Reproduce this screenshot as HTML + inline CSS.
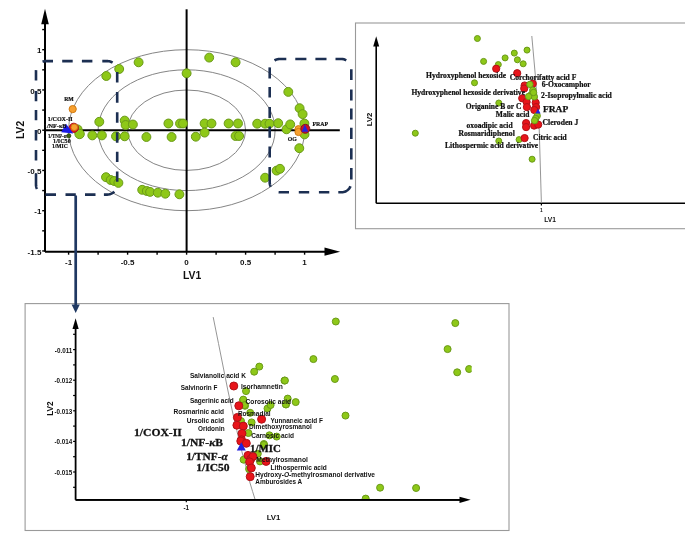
<!DOCTYPE html><html><head><meta charset="utf-8"><style>html,body{margin:0;padding:0;background:#fff;}svg{display:block;filter:blur(0.35px)}</style></head><body>
<svg width="685" height="547" viewBox="0 0 685 547">
<rect width="685" height="547" fill="#fff"/>
<ellipse cx="186.6" cy="130.2" rx="118.0" ry="80.5" fill="none" stroke="#858585" stroke-width="1"/>
<ellipse cx="186.6" cy="130.2" rx="88.5" ry="60.4" fill="none" stroke="#858585" stroke-width="1"/>
<ellipse cx="186.6" cy="130.2" rx="59.0" ry="40.2" fill="none" stroke="#858585" stroke-width="1"/>
<line x1="45.0" y1="251.7" x2="45.0" y2="22" stroke="#000" stroke-width="2"/>
<polygon points="45.0,8.8 41.2,24.3 48.8,24.3" fill="#000"/>
<line x1="45.0" y1="251.7" x2="326" y2="251.7" stroke="#000" stroke-width="2"/>
<polygon points="340.2,251.7 324.5,247.6 324.5,255.8" fill="#000"/>
<line x1="45.0" y1="130.2" x2="339.8" y2="130.2" stroke="#000" stroke-width="2"/>
<line x1="186.6" y1="9.3" x2="186.6" y2="251.7" stroke="#000" stroke-width="2"/>
<line x1="42.2" y1="250.95" x2="45.0" y2="250.95" stroke="#000" stroke-width="1.4"/>
<line x1="42.2" y1="230.825" x2="45.0" y2="230.825" stroke="#000" stroke-width="1.4"/>
<line x1="42.2" y1="210.7" x2="45.0" y2="210.7" stroke="#000" stroke-width="1.4"/>
<line x1="42.2" y1="190.575" x2="45.0" y2="190.575" stroke="#000" stroke-width="1.4"/>
<line x1="42.2" y1="170.45" x2="45.0" y2="170.45" stroke="#000" stroke-width="1.4"/>
<line x1="42.2" y1="150.325" x2="45.0" y2="150.325" stroke="#000" stroke-width="1.4"/>
<line x1="42.2" y1="130.2" x2="45.0" y2="130.2" stroke="#000" stroke-width="1.4"/>
<line x1="42.2" y1="110.07499999999999" x2="45.0" y2="110.07499999999999" stroke="#000" stroke-width="1.4"/>
<line x1="42.2" y1="89.94999999999999" x2="45.0" y2="89.94999999999999" stroke="#000" stroke-width="1.4"/>
<line x1="42.2" y1="69.82499999999999" x2="45.0" y2="69.82499999999999" stroke="#000" stroke-width="1.4"/>
<line x1="42.2" y1="49.69999999999999" x2="45.0" y2="49.69999999999999" stroke="#000" stroke-width="1.4"/>
<line x1="42.2" y1="29.57499999999999" x2="45.0" y2="29.57499999999999" stroke="#000" stroke-width="1.4"/>
<line x1="68.6" y1="251.7" x2="68.6" y2="254.7" stroke="#000" stroke-width="1.4"/>
<line x1="98.1" y1="251.7" x2="98.1" y2="254.7" stroke="#000" stroke-width="1.4"/>
<line x1="127.6" y1="251.7" x2="127.6" y2="254.7" stroke="#000" stroke-width="1.4"/>
<line x1="157.1" y1="251.7" x2="157.1" y2="254.7" stroke="#000" stroke-width="1.4"/>
<line x1="186.6" y1="251.7" x2="186.6" y2="254.7" stroke="#000" stroke-width="1.4"/>
<line x1="216.1" y1="251.7" x2="216.1" y2="254.7" stroke="#000" stroke-width="1.4"/>
<line x1="245.6" y1="251.7" x2="245.6" y2="254.7" stroke="#000" stroke-width="1.4"/>
<line x1="275.1" y1="251.7" x2="275.1" y2="254.7" stroke="#000" stroke-width="1.4"/>
<line x1="304.6" y1="251.7" x2="304.6" y2="254.7" stroke="#000" stroke-width="1.4"/>
<text x="41.4" y="53.3" font-family="'Liberation Sans',sans-serif" font-size="8.0" font-weight="bold" text-anchor="end" fill="#111">1</text>
<text x="41.4" y="93.5" font-family="'Liberation Sans',sans-serif" font-size="8.0" font-weight="bold" text-anchor="end" fill="#111">0.5</text>
<text x="41.4" y="133.8" font-family="'Liberation Sans',sans-serif" font-size="8.0" font-weight="bold" text-anchor="end" fill="#111">0</text>
<text x="41.4" y="174.0" font-family="'Liberation Sans',sans-serif" font-size="8.0" font-weight="bold" text-anchor="end" fill="#111">-0.5</text>
<text x="41.4" y="214.3" font-family="'Liberation Sans',sans-serif" font-size="8.0" font-weight="bold" text-anchor="end" fill="#111">-1</text>
<text x="41.4" y="254.5" font-family="'Liberation Sans',sans-serif" font-size="8.0" font-weight="bold" text-anchor="end" fill="#111">-1.5</text>
<text x="68.6" y="265.0" font-family="'Liberation Sans',sans-serif" font-size="8.0" font-weight="bold" text-anchor="middle" fill="#111">-1</text>
<text x="127.6" y="265.0" font-family="'Liberation Sans',sans-serif" font-size="8.0" font-weight="bold" text-anchor="middle" fill="#111">-0.5</text>
<text x="186.6" y="265.0" font-family="'Liberation Sans',sans-serif" font-size="8.0" font-weight="bold" text-anchor="middle" fill="#111">0</text>
<text x="245.6" y="265.0" font-family="'Liberation Sans',sans-serif" font-size="8.0" font-weight="bold" text-anchor="middle" fill="#111">0.5</text>
<text x="304.6" y="265.0" font-family="'Liberation Sans',sans-serif" font-size="8.0" font-weight="bold" text-anchor="middle" fill="#111">1</text>
<text x="192.2" y="278.7" font-family="'Liberation Sans',sans-serif" font-size="10.4" font-weight="bold" text-anchor="middle" fill="#111">LV1</text>
<text x="19.9" y="133.6" font-family="'Liberation Sans',sans-serif" font-size="10.4" font-weight="bold" text-anchor="middle" fill="#111" transform="rotate(-90 19.9 129.9)">LV2</text>
<circle cx="106.3" cy="76.0" r="4.45" fill="#8ec818" stroke="#6a9a18" stroke-width="1.0"/>
<circle cx="119.2" cy="69.0" r="4.45" fill="#8ec818" stroke="#6a9a18" stroke-width="1.0"/>
<circle cx="138.6" cy="62.3" r="4.45" fill="#8ec818" stroke="#6a9a18" stroke-width="1.0"/>
<circle cx="209.2" cy="57.6" r="4.45" fill="#8ec818" stroke="#6a9a18" stroke-width="1.0"/>
<circle cx="235.6" cy="62.3" r="4.45" fill="#8ec818" stroke="#6a9a18" stroke-width="1.0"/>
<circle cx="186.6" cy="73.3" r="4.45" fill="#8ec818" stroke="#6a9a18" stroke-width="1.0"/>
<circle cx="99.3" cy="121.8" r="4.45" fill="#8ec818" stroke="#6a9a18" stroke-width="1.0"/>
<circle cx="124.7" cy="120.6" r="4.45" fill="#8ec818" stroke="#6a9a18" stroke-width="1.0"/>
<circle cx="125.6" cy="125.0" r="4.45" fill="#8ec818" stroke="#6a9a18" stroke-width="1.0"/>
<circle cx="132.9" cy="124.5" r="4.45" fill="#8ec818" stroke="#6a9a18" stroke-width="1.0"/>
<circle cx="92.3" cy="135.4" r="4.45" fill="#8ec818" stroke="#6a9a18" stroke-width="1.0"/>
<circle cx="101.9" cy="135.4" r="4.45" fill="#8ec818" stroke="#6a9a18" stroke-width="1.0"/>
<circle cx="116.0" cy="136.3" r="4.45" fill="#8ec818" stroke="#6a9a18" stroke-width="1.0"/>
<circle cx="124.7" cy="136.3" r="4.45" fill="#8ec818" stroke="#6a9a18" stroke-width="1.0"/>
<circle cx="146.4" cy="137.0" r="4.45" fill="#8ec818" stroke="#6a9a18" stroke-width="1.0"/>
<circle cx="168.4" cy="123.5" r="4.45" fill="#8ec818" stroke="#6a9a18" stroke-width="1.0"/>
<circle cx="180.0" cy="123.5" r="4.45" fill="#8ec818" stroke="#6a9a18" stroke-width="1.0"/>
<circle cx="183.0" cy="123.5" r="4.45" fill="#8ec818" stroke="#6a9a18" stroke-width="1.0"/>
<circle cx="204.6" cy="123.5" r="4.45" fill="#8ec818" stroke="#6a9a18" stroke-width="1.0"/>
<circle cx="211.5" cy="123.5" r="4.45" fill="#8ec818" stroke="#6a9a18" stroke-width="1.0"/>
<circle cx="228.6" cy="123.5" r="4.45" fill="#8ec818" stroke="#6a9a18" stroke-width="1.0"/>
<circle cx="238.0" cy="123.5" r="4.45" fill="#8ec818" stroke="#6a9a18" stroke-width="1.0"/>
<circle cx="171.6" cy="137.0" r="4.45" fill="#8ec818" stroke="#6a9a18" stroke-width="1.0"/>
<circle cx="195.8" cy="136.7" r="4.45" fill="#8ec818" stroke="#6a9a18" stroke-width="1.0"/>
<circle cx="204.6" cy="132.6" r="4.45" fill="#8ec818" stroke="#6a9a18" stroke-width="1.0"/>
<circle cx="235.6" cy="136.0" r="4.45" fill="#8ec818" stroke="#6a9a18" stroke-width="1.0"/>
<circle cx="239.1" cy="136.0" r="4.45" fill="#8ec818" stroke="#6a9a18" stroke-width="1.0"/>
<circle cx="257.2" cy="123.7" r="4.45" fill="#8ec818" stroke="#6a9a18" stroke-width="1.0"/>
<circle cx="265.1" cy="123.7" r="4.45" fill="#8ec818" stroke="#6a9a18" stroke-width="1.0"/>
<circle cx="269.5" cy="123.7" r="4.45" fill="#8ec818" stroke="#6a9a18" stroke-width="1.0"/>
<circle cx="278.2" cy="123.2" r="4.45" fill="#8ec818" stroke="#6a9a18" stroke-width="1.0"/>
<circle cx="286.5" cy="129.3" r="4.45" fill="#8ec818" stroke="#6a9a18" stroke-width="1.0"/>
<circle cx="290.2" cy="124.4" r="4.45" fill="#8ec818" stroke="#6a9a18" stroke-width="1.0"/>
<circle cx="299.6" cy="108.2" r="4.45" fill="#8ec818" stroke="#6a9a18" stroke-width="1.0"/>
<circle cx="302.6" cy="114.1" r="4.45" fill="#8ec818" stroke="#6a9a18" stroke-width="1.0"/>
<circle cx="299.3" cy="148.2" r="4.45" fill="#8ec818" stroke="#6a9a18" stroke-width="1.0"/>
<circle cx="106.0" cy="177.2" r="4.45" fill="#8ec818" stroke="#6a9a18" stroke-width="1.0"/>
<circle cx="110.7" cy="180.0" r="4.45" fill="#8ec818" stroke="#6a9a18" stroke-width="1.0"/>
<circle cx="114.2" cy="181.0" r="4.45" fill="#8ec818" stroke="#6a9a18" stroke-width="1.0"/>
<circle cx="118.4" cy="182.9" r="4.45" fill="#8ec818" stroke="#6a9a18" stroke-width="1.0"/>
<circle cx="142.2" cy="189.8" r="4.45" fill="#8ec818" stroke="#6a9a18" stroke-width="1.0"/>
<circle cx="146.8" cy="191.0" r="4.45" fill="#8ec818" stroke="#6a9a18" stroke-width="1.0"/>
<circle cx="150.1" cy="191.9" r="4.45" fill="#8ec818" stroke="#6a9a18" stroke-width="1.0"/>
<circle cx="157.8" cy="192.7" r="4.45" fill="#8ec818" stroke="#6a9a18" stroke-width="1.0"/>
<circle cx="165.3" cy="193.7" r="4.45" fill="#8ec818" stroke="#6a9a18" stroke-width="1.0"/>
<circle cx="179.4" cy="194.3" r="4.45" fill="#8ec818" stroke="#6a9a18" stroke-width="1.0"/>
<circle cx="265.1" cy="177.7" r="4.45" fill="#8ec818" stroke="#6a9a18" stroke-width="1.0"/>
<circle cx="276.6" cy="170.6" r="4.45" fill="#8ec818" stroke="#6a9a18" stroke-width="1.0"/>
<circle cx="280.0" cy="168.8" r="4.45" fill="#8ec818" stroke="#6a9a18" stroke-width="1.0"/>
<circle cx="288.3" cy="91.9" r="4.45" fill="#8ec818" stroke="#6a9a18" stroke-width="1.0"/>
<circle cx="304.4" cy="123.5" r="4.45" fill="#8ec818" stroke="#6a9a18" stroke-width="1.0"/>
<circle cx="304.5" cy="134.4" r="4.45" fill="#8ec818" stroke="#6a9a18" stroke-width="1.0"/>
<circle cx="77.5" cy="129.5" r="4.6" fill="#8ec818" stroke="#6a9a18" stroke-width="1.0"/>
<circle cx="79.6" cy="134.0" r="4.7" fill="#8ec818" stroke="#6a9a18" stroke-width="1.0"/>
<circle cx="68.8" cy="135.8" r="2.0" fill="#3d6212" stroke="#2d4a0c" stroke-width="1.0"/>
<circle cx="73.8" cy="127.8" r="4.6" fill="#e8141a" stroke="#b01218" stroke-width="1.0"/>
<circle cx="74.3" cy="127.3" r="3.3" fill="#f7a030" stroke="#d07a10" stroke-width="1.0"/>
<circle cx="72.7" cy="109.1" r="3.6" fill="#f7a030" stroke="#d07a10" stroke-width="1.0"/>
<polygon points="66.0,123.8 61.2,132.2 73.3,133.4" fill="#1a1ae6"/>
<circle cx="298.5" cy="129.2" r="3.6" fill="#f7a030" stroke="#d07a10" stroke-width="1.0"/>
<circle cx="298.5" cy="132.0" r="3.6" fill="#f7a030" stroke="#d07a10" stroke-width="1.0"/>
<circle cx="305.3" cy="128.8" r="4.5" fill="#cc1028" stroke="#7a1020" stroke-width="0.9"/>
<polygon points="304.7,124.6 301.8,131.8 308.2,131.8" fill="#2222dd"/>
<text x="69.0" y="101.4" font-family="'Liberation Serif',serif" font-size="5.8" font-weight="bold" text-anchor="middle" fill="#111" textLength="9.6" lengthAdjust="spacingAndGlyphs" stroke="#111" stroke-width="0.2">RM</text>
<text x="47.8" y="121.1" font-family="'Liberation Serif',serif" font-size="6.1" font-weight="bold" text-anchor="start" fill="#111" textLength="24.9" lengthAdjust="spacingAndGlyphs" stroke="#111" stroke-width="0.2">1/COX-II</text>
<text x="43.8" y="127.9" font-family="'Liberation Serif',serif" font-size="6.1" font-weight="bold" text-anchor="start" fill="#111" textLength="22.7" lengthAdjust="spacingAndGlyphs" stroke="#111" stroke-width="0.2">1/NF-κB</text>
<text x="48.0" y="137.7" font-family="'Liberation Serif',serif" font-size="6.1" font-weight="bold" text-anchor="start" fill="#111" textLength="18.5" lengthAdjust="spacingAndGlyphs" stroke="#111" stroke-width="0.2">1/TNF-α</text>
<text x="53.1" y="143.3" font-family="'Liberation Serif',serif" font-size="6.1" font-weight="bold" text-anchor="start" fill="#111" textLength="17.6" lengthAdjust="spacingAndGlyphs" stroke="#111" stroke-width="0.2">1/IC50</text>
<text x="51.9" y="148.3" font-family="'Liberation Serif',serif" font-size="6.1" font-weight="bold" text-anchor="start" fill="#111" textLength="15.8" lengthAdjust="spacingAndGlyphs" stroke="#111" stroke-width="0.2">1/MIC</text>
<text x="292.3" y="141.1" font-family="'Liberation Serif',serif" font-size="5.8" font-weight="bold" text-anchor="middle" fill="#111" textLength="9.0" lengthAdjust="spacingAndGlyphs" stroke="#111" stroke-width="0.2">OG</text>
<text x="312.5" y="125.9" font-family="'Liberation Serif',serif" font-size="5.9" font-weight="bold" text-anchor="start" fill="#111" textLength="15.7" lengthAdjust="spacingAndGlyphs" stroke="#111" stroke-width="0.2">FRAP</text>
<path d="M42.57 61.71 L43.04 61.55 L43.53 61.41 L44.01 61.30 L44.51 61.21 L45.00 61.15 L45.50 61.11 L46.00 61.10 L46.50 61.10 L47.00 61.10 L47.50 61.10 L48.00 61.10 L48.50 61.10 L49.00 61.10 L49.50 61.10 L50.00 61.10 L50.50 61.10 L51.00 61.10 L51.50 61.10 L52.00 61.10 L52.50 61.10 L53.00 61.10 M62.20 61.10 L62.70 61.10 L63.20 61.10 L63.70 61.10 L64.20 61.10 L64.70 61.10 L65.20 61.10 L65.70 61.10 L66.20 61.10 L66.70 61.10 L67.20 61.10 L67.70 61.10 L68.20 61.10 L68.70 61.10 L69.20 61.10 L69.70 61.10 L70.20 61.10 L70.70 61.10 L71.20 61.10 L71.70 61.10 L72.20 61.10 L72.70 61.10 M81.90 61.10 L82.40 61.10 L82.90 61.10 L83.40 61.10 L83.90 61.10 L84.40 61.10 L84.90 61.10 L85.40 61.10 L85.90 61.10 L86.40 61.10 L86.90 61.10 L87.40 61.10 L87.90 61.10 L88.40 61.10 L88.90 61.10 L89.40 61.10 L89.90 61.10 L90.40 61.10 L90.90 61.10 L91.40 61.10 L91.90 61.10 L92.40 61.10 M102.30 61.10 L102.80 61.10 L103.31 61.10 L103.81 61.10 L104.32 61.10 L104.82 61.10 L105.33 61.10 L105.83 61.10 L106.34 61.10 L106.84 61.10 L107.35 61.10 L107.85 61.12 L108.35 61.17 L108.85 61.24 L109.35 61.33 L109.84 61.45 L110.32 61.60 L110.80 61.77 L111.26 61.96 L111.72 62.18 L112.16 62.42 L112.60 62.68 M117.20 72.10 L117.20 72.61 L117.20 73.13 L117.20 73.64 L117.20 74.16 L117.20 74.67 L117.20 75.19 L117.20 75.70 L117.20 76.22 L117.20 76.73 L117.20 77.25 L117.20 77.76 L117.20 78.28 L117.20 78.79 L117.20 79.31 L117.20 79.82 L117.20 80.34 L117.20 80.85 L117.20 81.37 L117.20 81.88 L117.20 82.40 M117.20 92.00 L117.20 92.51 L117.20 93.02 L117.20 93.53 L117.20 94.04 L117.20 94.55 L117.20 95.06 L117.20 95.57 L117.20 96.08 L117.20 96.59 L117.20 97.10 L117.20 97.60 L117.20 98.11 L117.20 98.62 L117.20 99.13 L117.20 99.64 L117.20 100.15 L117.20 100.66 L117.20 101.17 L117.20 101.68 L117.20 102.19 L117.20 102.70 M117.20 112.30 L117.20 112.80 L117.20 113.30 L117.20 113.80 L117.20 114.30 L117.20 114.80 L117.20 115.30 L117.20 115.80 L117.20 116.30 L117.20 116.80 L117.20 117.30 L117.20 117.80 L117.20 118.30 L117.20 118.80 L117.20 119.30 L117.20 119.80 L117.20 120.30 L117.20 120.80 L117.20 121.30 L117.20 121.80 L117.20 122.30 L117.20 122.80 M117.20 132.30 L117.20 132.80 L117.20 133.30 L117.20 133.80 L117.20 134.30 L117.20 134.80 L117.20 135.30 L117.20 135.80 L117.20 136.30 L117.20 136.80 L117.20 137.30 L117.20 137.80 L117.20 138.30 L117.20 138.80 L117.20 139.30 L117.20 139.80 L117.20 140.30 L117.20 140.80 L117.20 141.30 L117.20 141.80 L117.20 142.30 L117.20 142.80 M117.20 151.70 L117.20 152.21 L117.20 152.73 L117.20 153.24 L117.20 153.76 L117.20 154.27 L117.20 154.79 L117.20 155.30 L117.20 155.82 L117.20 156.33 L117.20 156.85 L117.20 157.36 L117.20 157.88 L117.20 158.39 L117.20 158.91 L117.20 159.42 L117.20 159.94 L117.20 160.45 L117.20 160.97 L117.20 161.48 L117.20 162.00 M117.20 171.60 L117.20 172.11 L117.20 172.62 L117.20 173.13 L117.20 173.64 L117.20 174.15 L117.20 174.66 L117.20 175.17 L117.20 175.68 L117.20 176.19 L117.20 176.70 L117.20 177.21 L117.20 177.72 L117.20 178.23 L117.20 178.74 L117.20 179.25 L117.20 179.76 L117.20 180.27 L117.20 180.78 L117.20 181.29 L117.20 181.80 M114.27 191.67 L113.91 192.02 L113.52 192.35 L113.12 192.66 L112.70 192.95 L112.27 193.22 L111.83 193.46 L111.38 193.69 L110.91 193.89 L110.43 194.06 L109.95 194.21 L109.46 194.34 L108.96 194.44 L108.46 194.52 L107.96 194.57 L107.45 194.60 L106.94 194.60 L106.44 194.60 L105.93 194.60 L105.42 194.60 L104.91 194.60 L104.41 194.60 L103.90 194.60 M95.50 194.60 L95.00 194.60 L94.50 194.60 L94.00 194.60 L93.50 194.60 L93.00 194.60 L92.50 194.60 L92.00 194.60 L91.50 194.60 L91.00 194.60 L90.50 194.60 L90.00 194.60 L89.50 194.60 L89.00 194.60 L88.50 194.60 L88.00 194.60 L87.50 194.60 L87.00 194.60 L86.50 194.60 L86.00 194.60 L85.50 194.60 L85.00 194.60 M75.80 194.60 L75.29 194.60 L74.77 194.60 L74.26 194.60 L73.74 194.60 L73.23 194.60 L72.71 194.60 L72.20 194.60 L71.68 194.60 L71.16 194.60 L70.65 194.60 L70.14 194.60 L69.62 194.60 L69.11 194.60 L68.59 194.60 L68.08 194.60 L67.56 194.60 L67.05 194.60 L66.53 194.60 L66.02 194.60 L65.50 194.60 M56.00 194.60 L55.50 194.60 L55.00 194.60 L54.50 194.60 L54.00 194.60 L53.50 194.60 L53.00 194.60 L52.50 194.60 L52.00 194.60 L51.50 194.60 L51.00 194.60 L50.50 194.60 L50.00 194.60 L49.50 194.60 L49.00 194.60 L48.50 194.60 L48.00 194.60 L47.50 194.60 L47.00 194.60 L46.50 194.60 L46.00 194.60 L45.50 194.59 M37.00 188.95 L36.79 188.49 L36.60 188.02 L36.44 187.55 L36.31 187.06 L36.20 186.57 L36.11 186.08 L36.05 185.58 L36.01 185.07 L36.00 184.57 L36.00 184.07 L36.00 183.56 L36.00 183.06 L36.00 182.56 L36.00 182.05 L36.00 181.55 L36.00 181.05 L36.00 180.55 L36.00 180.04 L36.00 179.54 L36.00 179.04 L36.00 178.53 L36.00 178.03 L36.00 177.53 L36.00 177.02 L36.00 176.52 L36.00 176.02 L36.00 175.51 L36.00 175.01 L36.00 174.51 L36.00 174.00 L36.00 173.50 M36.00 160.50 L36.00 160.00 L36.00 159.50 L36.00 159.00 L36.00 158.50 L36.00 158.00 L36.00 157.50 L36.00 157.00 L36.00 156.50 L36.00 156.00 L36.00 155.50 L36.00 155.00 L36.00 154.50 L36.00 154.00 L36.00 153.50 L36.00 153.00 L36.00 152.50 L36.00 152.00 L36.00 151.50 L36.00 151.00 L36.00 150.50 L36.00 150.00 M36.00 140.50 L36.00 140.00 L36.00 139.50 L36.00 139.00 L36.00 138.50 L36.00 138.00 L36.00 137.50 L36.00 137.00 L36.00 136.50 L36.00 136.00 L36.00 135.50 L36.00 135.00 L36.00 134.50 L36.00 134.00 L36.00 133.50 L36.00 133.00 L36.00 132.50 L36.00 132.00 L36.00 131.50 L36.00 131.00 L36.00 130.50 L36.00 130.00 M36.00 120.30 L36.00 119.79 L36.00 119.27 L36.00 118.75 L36.00 118.24 L36.00 117.73 L36.00 117.21 L36.00 116.69 L36.00 116.18 L36.00 115.67 L36.00 115.15 L36.00 114.63 L36.00 114.12 L36.00 113.61 L36.00 113.09 L36.00 112.57 L36.00 112.06 L36.00 111.55 L36.00 111.03 L36.00 110.51 L36.00 110.00 M36.00 101.30 L36.00 100.79 L36.00 100.27 L36.00 99.75 L36.00 99.24 L36.00 98.73 L36.00 98.21 L36.00 97.69 L36.00 97.18 L36.00 96.67 L36.00 96.15 L36.00 95.63 L36.00 95.12 L36.00 94.61 L36.00 94.09 L36.00 93.57 L36.00 93.06 L36.00 92.55 L36.00 92.03 L36.00 91.51 L36.00 91.00 M36.00 80.50 L36.00 79.98 L36.00 79.46 L36.00 78.94 L36.00 78.42 L36.00 77.90 L36.00 77.38 L36.00 76.86 L36.00 76.34 L36.00 75.82 L36.00 75.30 L36.00 74.78 L36.00 74.26 L36.00 73.74 L36.00 73.22 L36.00 72.70 L36.00 72.18 L36.00 71.66 L36.00 71.14 L36.01 70.62 L36.05 70.10" fill="none" stroke="#1c2f52" stroke-width="2.6" stroke-linecap="butt"/>
<path d="M274.47 60.47 L274.91 60.22 L275.36 59.99 L275.82 59.78 L276.29 59.60 L276.76 59.44 L277.25 59.30 L277.74 59.19 L278.24 59.11 L278.74 59.05 L279.24 59.01 L279.75 59.00 L280.25 59.00 L280.75 59.00 L281.26 59.00 L281.76 59.00 L282.27 59.00 L282.77 59.00 L283.27 59.00 L283.78 59.00 L284.28 59.00 L284.79 59.00 L285.29 59.00 L285.80 59.00 L286.30 59.00 M295.30 59.00 L295.80 59.00 L296.31 59.00 L296.81 59.00 L297.32 59.00 L297.82 59.00 L298.33 59.00 L298.83 59.00 L299.34 59.00 L299.84 59.00 L300.35 59.00 L300.85 59.00 L301.35 59.00 L301.86 59.00 L302.36 59.00 L302.87 59.00 L303.37 59.00 L303.88 59.00 L304.38 59.00 L304.89 59.00 L305.39 59.00 L305.90 59.00 L306.40 59.00 M315.40 59.00 L315.90 59.00 L316.41 59.00 L316.91 59.00 L317.42 59.00 L317.92 59.00 L318.43 59.00 L318.93 59.00 L319.44 59.00 L319.94 59.00 L320.45 59.00 L320.95 59.00 L321.45 59.00 L321.96 59.00 L322.46 59.00 L322.97 59.00 L323.47 59.00 L323.98 59.00 L324.48 59.00 L324.99 59.00 L325.49 59.00 L326.00 59.00 L326.50 59.00 M335.50 59.00 L336.00 59.00 L336.50 59.00 L337.00 59.00 L337.50 59.00 L338.00 59.00 L338.50 59.00 L339.00 59.00 L339.50 59.00 L340.00 59.00 L340.50 59.00 L341.00 59.00 L341.50 59.00 L342.00 59.02 L342.50 59.07 L342.99 59.14 L343.48 59.24 L343.97 59.36 L344.45 59.51 L344.92 59.68 L345.38 59.87 L345.83 60.08 L346.27 60.32 M351.30 69.20 L351.30 69.71 L351.30 70.23 L351.30 70.74 L351.30 71.26 L351.30 71.77 L351.30 72.29 L351.30 72.80 L351.30 73.31 L351.30 73.83 L351.30 74.34 L351.30 74.86 L351.30 75.37 L351.30 75.89 L351.30 76.40 L351.30 76.91 L351.30 77.43 L351.30 77.94 L351.30 78.46 L351.30 78.97 L351.30 79.49 L351.30 80.00 M351.30 89.40 L351.30 89.90 L351.30 90.41 L351.30 90.91 L351.30 91.42 L351.30 91.92 L351.30 92.43 L351.30 92.93 L351.30 93.44 L351.30 93.94 L351.30 94.45 L351.30 94.95 L351.30 95.45 L351.30 95.96 L351.30 96.46 L351.30 96.97 L351.30 97.47 L351.30 97.98 L351.30 98.48 L351.30 98.99 L351.30 99.49 L351.30 100.00 L351.30 100.50 M351.30 108.60 L351.30 109.10 L351.30 109.60 L351.30 110.10 L351.30 110.60 L351.30 111.10 L351.30 111.60 L351.30 112.10 L351.30 112.60 L351.30 113.10 L351.30 113.60 L351.30 114.10 L351.30 114.60 L351.30 115.10 L351.30 115.60 L351.30 116.10 L351.30 116.60 L351.30 117.10 L351.30 117.60 L351.30 118.10 L351.30 118.60 L351.30 119.10 L351.30 119.60 M351.30 127.80 L351.30 128.31 L351.30 128.82 L351.30 129.33 L351.30 129.84 L351.30 130.35 L351.30 130.85 L351.30 131.36 L351.30 131.87 L351.30 132.38 L351.30 132.89 L351.30 133.40 L351.30 133.91 L351.30 134.42 L351.30 134.93 L351.30 135.44 L351.30 135.95 L351.30 136.45 L351.30 136.96 L351.30 137.47 L351.30 137.98 L351.30 138.49 L351.30 139.00 M351.30 148.30 L351.30 148.81 L351.30 149.32 L351.30 149.83 L351.30 150.34 L351.30 150.85 L351.30 151.35 L351.30 151.86 L351.30 152.37 L351.30 152.88 L351.30 153.39 L351.30 153.90 L351.30 154.41 L351.30 154.92 L351.30 155.43 L351.30 155.94 L351.30 156.45 L351.30 156.95 L351.30 157.46 L351.30 157.97 L351.30 158.48 L351.30 158.99 L351.30 159.50 M351.30 168.00 L351.30 168.50 L351.30 169.00 L351.30 169.50 L351.30 170.00 L351.30 170.50 L351.30 171.00 L351.30 171.50 L351.30 172.00 L351.30 172.50 L351.30 173.00 L351.30 173.50 L351.30 174.00 L351.30 174.50 L351.30 175.00 L351.30 175.50 L351.30 176.00 L351.30 176.50 L351.30 177.00 L351.30 177.50 L351.30 178.00 L351.30 178.50 L351.30 179.00 L351.30 179.50 M350.51 186.19 L350.30 186.66 L350.07 187.11 L349.81 187.55 L349.54 187.97 L349.24 188.38 L348.92 188.78 L348.58 189.15 L348.23 189.51 L347.85 189.86 L347.46 190.18 L347.05 190.48 L346.63 190.76 L346.19 191.02 L345.75 191.26 L345.29 191.47 L344.82 191.66 L344.34 191.83 L343.85 191.97 L343.36 192.09 L342.86 192.18 L342.36 192.24 L341.85 192.28 L341.34 192.30 L340.84 192.30 L340.33 192.30 L339.82 192.30 L339.31 192.30 L338.81 192.30 L338.30 192.30 M329.30 192.30 L328.78 192.30 L328.26 192.30 L327.74 192.30 L327.22 192.30 L326.70 192.30 L326.18 192.30 L325.66 192.30 L325.14 192.30 L324.62 192.30 L324.10 192.30 L323.58 192.30 L323.06 192.30 L322.54 192.30 L322.02 192.30 L321.50 192.30 L320.98 192.30 L320.46 192.30 L319.94 192.30 L319.42 192.30 L318.90 192.30 M309.20 192.30 L308.68 192.30 L308.16 192.30 L307.64 192.30 L307.12 192.30 L306.60 192.30 L306.08 192.30 L305.56 192.30 L305.04 192.30 L304.52 192.30 L304.00 192.30 L303.48 192.30 L302.96 192.30 L302.44 192.30 L301.92 192.30 L301.40 192.30 L300.88 192.30 L300.36 192.30 L299.84 192.30 L299.32 192.30 L298.80 192.30 M289.00 192.30 L288.48 192.30 L287.96 192.30 L287.44 192.30 L286.92 192.30 L286.40 192.30 L285.88 192.30 L285.36 192.30 L284.84 192.30 L284.32 192.30 L283.80 192.30 L283.28 192.30 L282.76 192.30 L282.24 192.30 L281.72 192.30 L281.20 192.30 L280.68 192.30 L280.16 192.30 L279.64 192.30 L279.12 192.28 L278.60 192.24 M270.74 186.74 L270.52 186.28 L270.33 185.80 L270.17 185.32 L270.03 184.83 L269.91 184.33 L269.82 183.83 L269.75 183.33 L269.71 182.82 L269.70 182.31 L269.70 181.80 L269.70 181.29 L269.70 180.78 L269.70 180.27 L269.70 179.76 L269.70 179.25 L269.70 178.74 L269.70 178.23 L269.70 177.72 L269.70 177.21 L269.70 176.69 L269.70 176.18 L269.70 175.67 L269.70 175.16 L269.70 174.65 L269.70 174.14 L269.70 173.63 L269.70 173.12 L269.70 172.61 L269.70 172.10 L269.70 171.59 L269.70 171.08 L269.70 170.57 L269.70 170.06 L269.70 169.55 L269.70 169.04 L269.70 168.53 L269.70 168.02 L269.70 167.51 L269.70 167.00 M269.70 157.50 L269.70 157.00 L269.70 156.49 L269.70 155.99 L269.70 155.48 L269.70 154.98 L269.70 154.47 L269.70 153.97 L269.70 153.46 L269.70 152.96 L269.70 152.45 L269.70 151.95 L269.70 151.45 L269.70 150.94 L269.70 150.44 L269.70 149.93 L269.70 149.43 L269.70 148.92 L269.70 148.42 L269.70 147.91 L269.70 147.41 L269.70 146.90 L269.70 146.40 M269.70 137.70 L269.70 137.20 L269.70 136.69 L269.70 136.19 L269.70 135.68 L269.70 135.18 L269.70 134.67 L269.70 134.17 L269.70 133.66 L269.70 133.16 L269.70 132.65 L269.70 132.15 L269.70 131.65 L269.70 131.14 L269.70 130.64 L269.70 130.13 L269.70 129.63 L269.70 129.12 L269.70 128.62 L269.70 128.11 L269.70 127.61 L269.70 127.10 L269.70 126.60 M269.70 118.00 L269.70 117.50 L269.70 116.99 L269.70 116.49 L269.70 115.98 L269.70 115.48 L269.70 114.97 L269.70 114.47 L269.70 113.96 L269.70 113.46 L269.70 112.95 L269.70 112.45 L269.70 111.95 L269.70 111.44 L269.70 110.94 L269.70 110.43 L269.70 109.93 L269.70 109.42 L269.70 108.92 L269.70 108.41 L269.70 107.91 L269.70 107.40 L269.70 106.90 M269.70 97.50 L269.70 96.98 L269.70 96.46 L269.70 95.94 L269.70 95.42 L269.70 94.90 L269.70 94.38 L269.70 93.86 L269.70 93.34 L269.70 92.82 L269.70 92.30 L269.70 91.78 L269.70 91.26 L269.70 90.74 L269.70 90.22 L269.70 89.70 L269.70 89.18 L269.70 88.66 L269.70 88.14 L269.70 87.62 L269.70 87.10 M269.70 78.50 L269.70 78.00 L269.70 77.49 L269.70 76.99 L269.70 76.48 L269.70 75.98 L269.70 75.47 L269.70 74.97 L269.70 74.46 L269.70 73.96 L269.70 73.45 L269.70 72.95 L269.70 72.45 L269.70 71.94 L269.70 71.44 L269.70 70.93 L269.70 70.43 L269.70 69.92 L269.70 69.42 L269.70 68.91 L269.72 68.41 L269.76 67.91 L269.83 67.41" fill="none" stroke="#1c2f52" stroke-width="2.6" stroke-linecap="butt"/>
<rect x="355.5" y="23" width="340" height="205.7" fill="none" stroke="#9a9a9a" stroke-width="1.1"/>
<line x1="376.2" y1="203.2" x2="376.2" y2="45" stroke="#000" stroke-width="1.6"/>
<polygon points="376.2,36.2 373.2,46.4 379.2,46.4" fill="#000"/>
<line x1="376.2" y1="203.2" x2="690" y2="203.2" stroke="#000" stroke-width="1.6"/>
<polyline points="531.8,36 535.3,75 539.2,128.5 541.4,203.2" fill="none" stroke="#8a8a8a" stroke-width="0.9"/>
<line x1="541.4" y1="203.2" x2="541.4" y2="205.5" stroke="#000" stroke-width="1.2"/>
<text x="541.4" y="212.1" font-family="'Liberation Sans',sans-serif" font-size="4.8" font-weight="bold" text-anchor="middle" fill="#111">1</text>
<text x="550.0" y="221.7" font-family="'Liberation Sans',sans-serif" font-size="7.0" font-weight="bold" text-anchor="middle" fill="#111" textLength="11.7" lengthAdjust="spacingAndGlyphs">LV1</text>
<text x="369.2" y="121.9" font-family="'Liberation Sans',sans-serif" font-size="7.0" font-weight="bold" text-anchor="middle" fill="#111" textLength="13.7" lengthAdjust="spacingAndGlyphs" transform="rotate(-90 369.2 119.4)">LV2</text>
<circle cx="477.4" cy="38.5" r="3.0" fill="#8ec818" stroke="#6a9a18" stroke-width="1.0"/>
<circle cx="483.6" cy="61.4" r="3.0" fill="#8ec818" stroke="#6a9a18" stroke-width="1.0"/>
<circle cx="474.5" cy="82.8" r="3.0" fill="#8ec818" stroke="#6a9a18" stroke-width="1.0"/>
<circle cx="415.3" cy="133.2" r="3.0" fill="#8ec818" stroke="#6a9a18" stroke-width="1.0"/>
<circle cx="527.0" cy="50.1" r="3.0" fill="#8ec818" stroke="#6a9a18" stroke-width="1.0"/>
<circle cx="514.3" cy="53.1" r="3.0" fill="#8ec818" stroke="#6a9a18" stroke-width="1.0"/>
<circle cx="505.1" cy="57.9" r="3.0" fill="#8ec818" stroke="#6a9a18" stroke-width="1.0"/>
<circle cx="517.4" cy="59.8" r="3.0" fill="#8ec818" stroke="#6a9a18" stroke-width="1.0"/>
<circle cx="523.2" cy="63.8" r="3.0" fill="#8ec818" stroke="#6a9a18" stroke-width="1.0"/>
<circle cx="498.3" cy="64.6" r="3.0" fill="#8ec818" stroke="#6a9a18" stroke-width="1.0"/>
<circle cx="498.8" cy="103.0" r="3.0" fill="#8ec818" stroke="#6a9a18" stroke-width="1.0"/>
<circle cx="519.1" cy="139.6" r="3.0" fill="#8ec818" stroke="#6a9a18" stroke-width="1.0"/>
<circle cx="498.8" cy="141.0" r="3.0" fill="#8ec818" stroke="#6a9a18" stroke-width="1.0"/>
<circle cx="532.1" cy="159.2" r="3.0" fill="#8ec818" stroke="#6a9a18" stroke-width="1.0"/>
<circle cx="496.2" cy="68.7" r="3.6" fill="#e8141a" stroke="#b01218" stroke-width="1.0"/>
<circle cx="517.2" cy="73.2" r="3.6" fill="#e8141a" stroke="#b01218" stroke-width="1.0"/>
<circle cx="524.6" cy="85.5" r="3.6" fill="#e8141a" stroke="#b01218" stroke-width="1.0"/>
<circle cx="524.2" cy="88.5" r="3.6" fill="#e8141a" stroke="#b01218" stroke-width="1.0"/>
<circle cx="532.8" cy="83.7" r="3.6" fill="#e8141a" stroke="#b01218" stroke-width="1.0"/>
<circle cx="522.2" cy="98.3" r="3.6" fill="#e8141a" stroke="#b01218" stroke-width="1.0"/>
<circle cx="526.6" cy="101.9" r="3.6" fill="#e8141a" stroke="#b01218" stroke-width="1.0"/>
<circle cx="526.9" cy="107.1" r="3.6" fill="#e8141a" stroke="#b01218" stroke-width="1.0"/>
<circle cx="535.7" cy="102.7" r="3.6" fill="#e8141a" stroke="#b01218" stroke-width="1.0"/>
<circle cx="536.1" cy="107.1" r="3.6" fill="#e8141a" stroke="#b01218" stroke-width="1.0"/>
<circle cx="534.3" cy="110.0" r="3.6" fill="#e8141a" stroke="#b01218" stroke-width="1.0"/>
<circle cx="526.1" cy="123.1" r="3.6" fill="#e8141a" stroke="#b01218" stroke-width="1.0"/>
<circle cx="526.1" cy="127.1" r="3.6" fill="#e8141a" stroke="#b01218" stroke-width="1.0"/>
<circle cx="534.1" cy="125.6" r="3.6" fill="#e8141a" stroke="#b01218" stroke-width="1.0"/>
<circle cx="538.2" cy="124.6" r="3.6" fill="#e8141a" stroke="#b01218" stroke-width="1.0"/>
<circle cx="524.6" cy="138.1" r="3.6" fill="#e8141a" stroke="#b01218" stroke-width="1.0"/>
<circle cx="529.9" cy="84.4" r="3.2" fill="#8ec818" stroke="#6a9a18" stroke-width="1.0"/>
<circle cx="532.8" cy="90.2" r="3.2" fill="#8ec818" stroke="#6a9a18" stroke-width="1.0"/>
<circle cx="531.3" cy="94.6" r="3.2" fill="#8ec818" stroke="#6a9a18" stroke-width="1.0"/>
<circle cx="534.3" cy="96.8" r="3.2" fill="#8ec818" stroke="#6a9a18" stroke-width="1.0"/>
<circle cx="528.6" cy="96.5" r="3.2" fill="#8ec818" stroke="#6a9a18" stroke-width="1.0"/>
<circle cx="533.5" cy="92.5" r="3.2" fill="#8ec818" stroke="#6a9a18" stroke-width="1.0"/>
<circle cx="537.2" cy="115.8" r="3.2" fill="#8ec818" stroke="#6a9a18" stroke-width="1.0"/>
<circle cx="535.7" cy="118.5" r="3.2" fill="#8ec818" stroke="#6a9a18" stroke-width="1.0"/>
<circle cx="534.6" cy="120.6" r="3.2" fill="#8ec818" stroke="#6a9a18" stroke-width="1.0"/>
<polygon points="538.0,108.8 535.4,113.4 540.6,113.4" fill="#2222dd"/>
<text x="426.0" y="77.7" font-family="'Liberation Serif',serif" font-size="7.4" font-weight="bold" text-anchor="start" fill="#111" textLength="80.0" lengthAdjust="spacingAndGlyphs" stroke="#111" stroke-width="0.22">Hydroxyphenol hexoside</text>
<text x="411.4" y="95.0" font-family="'Liberation Serif',serif" font-size="7.4" font-weight="bold" text-anchor="start" fill="#111" textLength="113.6" lengthAdjust="spacingAndGlyphs" stroke="#111" stroke-width="0.22">Hydroxyphenol hexoside derivative</text>
<text x="509.7" y="80.0" font-family="'Liberation Serif',serif" font-size="7.4" font-weight="bold" text-anchor="start" fill="#111" textLength="66.6" lengthAdjust="spacingAndGlyphs" stroke="#111" stroke-width="0.22">Corchorifatty acid F</text>
<text x="541.8" y="86.9" font-family="'Liberation Serif',serif" font-size="7.4" font-weight="bold" text-anchor="start" fill="#111" textLength="48.9" lengthAdjust="spacingAndGlyphs" stroke="#111" stroke-width="0.22">6-Oxocamphor</text>
<text x="541.1" y="97.6" font-family="'Liberation Serif',serif" font-size="7.4" font-weight="bold" text-anchor="start" fill="#111" textLength="70.7" lengthAdjust="spacingAndGlyphs" stroke="#111" stroke-width="0.22">2-Isopropylmalic acid</text>
<text x="543.0" y="112.3" font-family="'Liberation Serif',serif" font-size="9.0" font-weight="bold" text-anchor="start" fill="#111" textLength="25.2" lengthAdjust="spacingAndGlyphs" stroke="#111" stroke-width="0.25">FRAP</text>
<text x="465.7" y="108.5" font-family="'Liberation Serif',serif" font-size="7.4" font-weight="bold" text-anchor="start" fill="#111" textLength="55.7" lengthAdjust="spacingAndGlyphs" stroke="#111" stroke-width="0.22">Origanine B or C</text>
<text x="495.8" y="116.8" font-family="'Liberation Serif',serif" font-size="7.4" font-weight="bold" text-anchor="start" fill="#111" textLength="33.6" lengthAdjust="spacingAndGlyphs" stroke="#111" stroke-width="0.22">Malic acid</text>
<text x="542.6" y="125.1" font-family="'Liberation Serif',serif" font-size="7.4" font-weight="bold" text-anchor="start" fill="#111" textLength="35.7" lengthAdjust="spacingAndGlyphs" stroke="#111" stroke-width="0.22">Cleroden J</text>
<text x="466.4" y="127.7" font-family="'Liberation Serif',serif" font-size="7.4" font-weight="bold" text-anchor="start" fill="#111" textLength="46.2" lengthAdjust="spacingAndGlyphs" stroke="#111" stroke-width="0.22">oxoadipic acid</text>
<text x="458.4" y="135.8" font-family="'Liberation Serif',serif" font-size="7.4" font-weight="bold" text-anchor="start" fill="#111" textLength="56.4" lengthAdjust="spacingAndGlyphs" stroke="#111" stroke-width="0.22">Rosmaridiphenol</text>
<text x="533.1" y="140.2" font-family="'Liberation Serif',serif" font-size="7.4" font-weight="bold" text-anchor="start" fill="#111" textLength="33.5" lengthAdjust="spacingAndGlyphs" stroke="#111" stroke-width="0.22">Citric acid</text>
<text x="445.0" y="147.9" font-family="'Liberation Serif',serif" font-size="7.4" font-weight="bold" text-anchor="start" fill="#111" textLength="93.2" lengthAdjust="spacingAndGlyphs" stroke="#111" stroke-width="0.22">Lithospermic acid derivative</text>
<rect x="25.1" y="303.6" width="483.9" height="226.9" fill="none" stroke="#9a9a9a" stroke-width="1.1"/>
<line x1="75.6" y1="499.8" x2="75.6" y2="328" stroke="#000" stroke-width="1.8"/>
<polygon points="75.6,318.3 72.5,329.0 78.7,329.0" fill="#000"/>
<line x1="75.6" y1="499.8" x2="460" y2="499.8" stroke="#000" stroke-width="1.8"/>
<polygon points="470.7,499.8 459.5,496.7 459.5,502.9" fill="#000"/>
<line x1="73.1" y1="334.3" x2="75.6" y2="334.3" stroke="#000" stroke-width="1.2"/>
<line x1="73.1" y1="349.6" x2="75.6" y2="349.6" stroke="#000" stroke-width="1.2"/>
<line x1="73.1" y1="364.90000000000003" x2="75.6" y2="364.90000000000003" stroke="#000" stroke-width="1.2"/>
<line x1="73.1" y1="380.20000000000005" x2="75.6" y2="380.20000000000005" stroke="#000" stroke-width="1.2"/>
<line x1="73.1" y1="395.5" x2="75.6" y2="395.5" stroke="#000" stroke-width="1.2"/>
<line x1="73.1" y1="410.8" x2="75.6" y2="410.8" stroke="#000" stroke-width="1.2"/>
<line x1="73.1" y1="426.1" x2="75.6" y2="426.1" stroke="#000" stroke-width="1.2"/>
<line x1="73.1" y1="441.40000000000003" x2="75.6" y2="441.40000000000003" stroke="#000" stroke-width="1.2"/>
<line x1="73.1" y1="456.70000000000005" x2="75.6" y2="456.70000000000005" stroke="#000" stroke-width="1.2"/>
<line x1="73.1" y1="472.0" x2="75.6" y2="472.0" stroke="#000" stroke-width="1.2"/>
<line x1="73.1" y1="487.3" x2="75.6" y2="487.3" stroke="#000" stroke-width="1.2"/>
<text x="72.3" y="352.5" font-family="'Liberation Sans',sans-serif" font-size="6.3" font-weight="bold" text-anchor="end" fill="#111">-0.011</text>
<text x="72.3" y="383.1" font-family="'Liberation Sans',sans-serif" font-size="6.3" font-weight="bold" text-anchor="end" fill="#111">-0.012</text>
<text x="72.3" y="413.7" font-family="'Liberation Sans',sans-serif" font-size="6.3" font-weight="bold" text-anchor="end" fill="#111">-0.013</text>
<text x="72.3" y="444.3" font-family="'Liberation Sans',sans-serif" font-size="6.3" font-weight="bold" text-anchor="end" fill="#111">-0.014</text>
<text x="72.3" y="474.9" font-family="'Liberation Sans',sans-serif" font-size="6.3" font-weight="bold" text-anchor="end" fill="#111">-0.015</text>
<line x1="186.3" y1="499.8" x2="186.3" y2="502.3" stroke="#000" stroke-width="1.2"/>
<text x="186.3" y="509.9" font-family="'Liberation Sans',sans-serif" font-size="6.3" font-weight="bold" text-anchor="middle" fill="#111">-1</text>
<text x="273.5" y="520.2" font-family="'Liberation Sans',sans-serif" font-size="7.8" font-weight="bold" text-anchor="middle" fill="#111">LV1</text>
<text x="49.9" y="411.6" font-family="'Liberation Sans',sans-serif" font-size="8.2" font-weight="bold" text-anchor="middle" fill="#111" transform="rotate(-90 49.9 408.6)">LV2</text>
<polyline points="213.2,317.1 218.5,343.5 223.8,370 227.8,390 232.1,410 236.8,430.5 241.8,451.3 246,467 249.7,481.9 252.6,491.5 255.2,499.8" fill="none" stroke="#8a8a8a" stroke-width="0.9"/>
<defs><clipPath id="cc"><rect x="76" y="310" width="395.6" height="189.8"/></clipPath></defs><g clip-path="url(#cc)">
<circle cx="335.8" cy="321.5" r="3.5" fill="#8ec818" stroke="#6a9a18" stroke-width="1.0"/>
<circle cx="455.3" cy="323.1" r="3.5" fill="#8ec818" stroke="#6a9a18" stroke-width="1.0"/>
<circle cx="447.6" cy="349.1" r="3.5" fill="#8ec818" stroke="#6a9a18" stroke-width="1.0"/>
<circle cx="313.4" cy="359.1" r="3.5" fill="#8ec818" stroke="#6a9a18" stroke-width="1.0"/>
<circle cx="457.2" cy="372.3" r="3.5" fill="#8ec818" stroke="#6a9a18" stroke-width="1.0"/>
<circle cx="469.1" cy="369.0" r="3.5" fill="#8ec818" stroke="#6a9a18" stroke-width="1.0"/>
<circle cx="334.9" cy="379.0" r="3.5" fill="#8ec818" stroke="#6a9a18" stroke-width="1.0"/>
<circle cx="284.5" cy="380.6" r="3.5" fill="#8ec818" stroke="#6a9a18" stroke-width="1.0"/>
<circle cx="287.7" cy="398.6" r="3.5" fill="#8ec818" stroke="#6a9a18" stroke-width="1.0"/>
<circle cx="295.7" cy="402.1" r="3.5" fill="#8ec818" stroke="#6a9a18" stroke-width="1.0"/>
<circle cx="286.0" cy="404.4" r="3.5" fill="#8ec818" stroke="#6a9a18" stroke-width="1.0"/>
<circle cx="345.5" cy="415.6" r="3.5" fill="#8ec818" stroke="#6a9a18" stroke-width="1.0"/>
<circle cx="380.1" cy="487.7" r="3.5" fill="#8ec818" stroke="#6a9a18" stroke-width="1.0"/>
<circle cx="416.1" cy="488.0" r="3.5" fill="#8ec818" stroke="#6a9a18" stroke-width="1.0"/>
<circle cx="365.7" cy="498.6" r="3.5" fill="#8ec818" stroke="#6a9a18" stroke-width="1.0"/>
<circle cx="259.3" cy="366.6" r="3.5" fill="#8ec818" stroke="#6a9a18" stroke-width="1.0"/>
<circle cx="254.2" cy="371.7" r="3.5" fill="#8ec818" stroke="#6a9a18" stroke-width="1.0"/>
<circle cx="284.9" cy="380.5" r="3.5" fill="#8ec818" stroke="#6a9a18" stroke-width="1.0"/>
<circle cx="246.0" cy="391.1" r="3.5" fill="#8ec818" stroke="#6a9a18" stroke-width="1.0"/>
<circle cx="243.0" cy="400.3" r="3.5" fill="#8ec818" stroke="#6a9a18" stroke-width="1.0"/>
<circle cx="245.0" cy="405.8" r="3.5" fill="#8ec818" stroke="#6a9a18" stroke-width="1.0"/>
<circle cx="267.5" cy="408.5" r="3.5" fill="#8ec818" stroke="#6a9a18" stroke-width="1.0"/>
<circle cx="270.6" cy="405.0" r="3.5" fill="#8ec818" stroke="#6a9a18" stroke-width="1.0"/>
<circle cx="285.9" cy="404.4" r="3.5" fill="#8ec818" stroke="#6a9a18" stroke-width="1.0"/>
<circle cx="243.3" cy="399.6" r="3.5" fill="#8ec818" stroke="#6a9a18" stroke-width="1.0"/>
<circle cx="244.7" cy="405.1" r="3.5" fill="#8ec818" stroke="#6a9a18" stroke-width="1.0"/>
<circle cx="250.2" cy="412.8" r="3.5" fill="#8ec818" stroke="#6a9a18" stroke-width="1.0"/>
<circle cx="251.6" cy="422.4" r="3.5" fill="#8ec818" stroke="#6a9a18" stroke-width="1.0"/>
<circle cx="241.0" cy="421.1" r="3.5" fill="#8ec818" stroke="#6a9a18" stroke-width="1.0"/>
<circle cx="248.4" cy="433.0" r="3.5" fill="#8ec818" stroke="#6a9a18" stroke-width="1.0"/>
<circle cx="269.4" cy="435.3" r="3.5" fill="#8ec818" stroke="#6a9a18" stroke-width="1.0"/>
<circle cx="276.7" cy="436.6" r="3.5" fill="#8ec818" stroke="#6a9a18" stroke-width="1.0"/>
<circle cx="263.9" cy="444.0" r="3.5" fill="#8ec818" stroke="#6a9a18" stroke-width="1.0"/>
<circle cx="263.9" cy="444.9" r="3.5" fill="#8ec818" stroke="#6a9a18" stroke-width="1.0"/>
<circle cx="257.8" cy="453.7" r="3.5" fill="#8ec818" stroke="#6a9a18" stroke-width="1.0"/>
<circle cx="260.0" cy="461.4" r="3.5" fill="#8ec818" stroke="#6a9a18" stroke-width="1.0"/>
<circle cx="249.1" cy="469.1" r="3.5" fill="#8ec818" stroke="#6a9a18" stroke-width="1.0"/>
<circle cx="243.6" cy="459.7" r="3.5" fill="#8ec818" stroke="#6a9a18" stroke-width="1.0"/>
</g>
<line x1="75.6" y1="499.8" x2="460" y2="499.8" stroke="#000" stroke-width="1.8"/>
<circle cx="233.8" cy="386.0" r="4.0" fill="#e8141a" stroke="#b01218" stroke-width="1.0"/>
<circle cx="238.8" cy="405.8" r="4.0" fill="#e8141a" stroke="#b01218" stroke-width="1.0"/>
<circle cx="237.4" cy="417.4" r="4.0" fill="#e8141a" stroke="#b01218" stroke-width="1.0"/>
<circle cx="236.9" cy="425.2" r="4.0" fill="#e8141a" stroke="#b01218" stroke-width="1.0"/>
<circle cx="243.3" cy="426.1" r="4.0" fill="#e8141a" stroke="#b01218" stroke-width="1.0"/>
<circle cx="242.0" cy="433.4" r="4.0" fill="#e8141a" stroke="#b01218" stroke-width="1.0"/>
<circle cx="241.5" cy="439.8" r="4.0" fill="#e8141a" stroke="#b01218" stroke-width="1.0"/>
<circle cx="261.6" cy="419.2" r="4.0" fill="#e8141a" stroke="#b01218" stroke-width="1.0"/>
<circle cx="240.8" cy="441.1" r="4.0" fill="#e8141a" stroke="#b01218" stroke-width="1.0"/>
<circle cx="246.3" cy="443.3" r="4.0" fill="#e8141a" stroke="#b01218" stroke-width="1.0"/>
<circle cx="248.0" cy="455.4" r="4.0" fill="#e8141a" stroke="#b01218" stroke-width="1.0"/>
<circle cx="250.7" cy="459.2" r="4.0" fill="#e8141a" stroke="#b01218" stroke-width="1.0"/>
<circle cx="252.9" cy="456.5" r="4.0" fill="#e8141a" stroke="#b01218" stroke-width="1.0"/>
<circle cx="249.6" cy="461.9" r="4.0" fill="#e8141a" stroke="#b01218" stroke-width="1.0"/>
<circle cx="251.3" cy="468.0" r="4.0" fill="#e8141a" stroke="#b01218" stroke-width="1.0"/>
<circle cx="250.2" cy="476.7" r="4.0" fill="#e8141a" stroke="#b01218" stroke-width="1.0"/>
<circle cx="266.1" cy="461.4" r="4.0" fill="#e8141a" stroke="#b01218" stroke-width="1.0"/>
<polygon points="241.3,442.3 236.8,450.6 245.8,450.6" fill="#2222dd"/>
<text x="189.9" y="377.6" font-family="'Liberation Sans',sans-serif" font-size="6.6" font-weight="bold" text-anchor="start" fill="#111" textLength="56.1" lengthAdjust="spacingAndGlyphs">Salvianolic acid K</text>
<text x="180.7" y="390.4" font-family="'Liberation Sans',sans-serif" font-size="6.6" font-weight="bold" text-anchor="start" fill="#111" textLength="36.7" lengthAdjust="spacingAndGlyphs">Salvinorin F</text>
<text x="240.9" y="389.0" font-family="'Liberation Sans',sans-serif" font-size="6.6" font-weight="bold" text-anchor="start" fill="#111" textLength="41.9" lengthAdjust="spacingAndGlyphs">Isorhamnetin</text>
<text x="189.9" y="403.1" font-family="'Liberation Sans',sans-serif" font-size="6.6" font-weight="bold" text-anchor="start" fill="#111" textLength="43.9" lengthAdjust="spacingAndGlyphs">Sagerinic acid</text>
<text x="245.6" y="403.7" font-family="'Liberation Sans',sans-serif" font-size="6.6" font-weight="bold" text-anchor="start" fill="#111" textLength="45.4" lengthAdjust="spacingAndGlyphs">Corosolic acid</text>
<text x="173.5" y="413.8" font-family="'Liberation Sans',sans-serif" font-size="6.6" font-weight="bold" text-anchor="start" fill="#111" textLength="50.5" lengthAdjust="spacingAndGlyphs">Rosmarinic acid</text>
<text x="237.9" y="416.4" font-family="'Liberation Sans',sans-serif" font-size="6.6" font-weight="bold" text-anchor="start" fill="#111" textLength="32.7" lengthAdjust="spacingAndGlyphs">Rosmadial</text>
<text x="186.8" y="422.9" font-family="'Liberation Sans',sans-serif" font-size="6.6" font-weight="bold" text-anchor="start" fill="#111" textLength="37.2" lengthAdjust="spacingAndGlyphs">Ursolic acid</text>
<text x="270.6" y="422.8" font-family="'Liberation Sans',sans-serif" font-size="6.6" font-weight="bold" text-anchor="start" fill="#111" textLength="52.4" lengthAdjust="spacingAndGlyphs">Yunnaneic acid F</text>
<text x="198.0" y="430.7" font-family="'Liberation Sans',sans-serif" font-size="6.6" font-weight="bold" text-anchor="start" fill="#111" textLength="26.6" lengthAdjust="spacingAndGlyphs">Oridonin</text>
<text x="249.1" y="428.8" font-family="'Liberation Sans',sans-serif" font-size="6.6" font-weight="bold" text-anchor="start" fill="#111" textLength="62.6" lengthAdjust="spacingAndGlyphs">Dimethoxyrosmanol</text>
<text x="251.2" y="438.2" font-family="'Liberation Sans',sans-serif" font-size="6.6" font-weight="bold" text-anchor="start" fill="#111" textLength="42.8" lengthAdjust="spacingAndGlyphs">Carnosic acid</text>
<text x="256.3" y="461.7" font-family="'Liberation Sans',sans-serif" font-size="6.6" font-weight="bold" text-anchor="start" fill="#111" textLength="51.6" lengthAdjust="spacingAndGlyphs">Methylrosmanol</text>
<text x="270.6" y="470.4" font-family="'Liberation Sans',sans-serif" font-size="6.6" font-weight="bold" text-anchor="start" fill="#111" textLength="56.2" lengthAdjust="spacingAndGlyphs">Lithospermic acid</text>
<text x="255.3" y="476.7" font-family="'Liberation Sans',sans-serif" font-size="6.6" font-weight="bold" text-anchor="start" fill="#111" textLength="119.7" lengthAdjust="spacingAndGlyphs">Hydroxy-<tspan font-style="italic">O</tspan>-methylrosmanol derivative</text>
<text x="255.3" y="484.2" font-family="'Liberation Sans',sans-serif" font-size="6.6" font-weight="bold" text-anchor="start" fill="#111" textLength="46.8" lengthAdjust="spacingAndGlyphs">Amburosides A</text>
<text x="134.0" y="436.1" font-family="'Liberation Serif',serif" font-size="11.4" font-weight="bold" text-anchor="start" fill="#111" textLength="47.7" lengthAdjust="spacingAndGlyphs" stroke="#111" stroke-width="0.3">1/COX-II</text>
<text x="181.0" y="446.0" font-family="'Liberation Serif',serif" font-size="11.4" font-weight="bold" text-anchor="start" fill="#111" textLength="42.0" lengthAdjust="spacingAndGlyphs" stroke="#111" stroke-width="0.3">1/NF-<tspan font-style="italic">κ</tspan>B</text>
<text x="186.2" y="460.4" font-family="'Liberation Serif',serif" font-size="11.4" font-weight="bold" text-anchor="start" fill="#111" textLength="41.5" lengthAdjust="spacingAndGlyphs" stroke="#111" stroke-width="0.3">1/TNF-<tspan font-style="italic">α</tspan></text>
<text x="196.2" y="470.6" font-family="'Liberation Serif',serif" font-size="11.4" font-weight="bold" text-anchor="start" fill="#111" textLength="33.3" lengthAdjust="spacingAndGlyphs" stroke="#111" stroke-width="0.3">1/IC50</text>
<text x="250.1" y="452.3" font-family="'Liberation Serif',serif" font-size="11.4" font-weight="bold" text-anchor="start" fill="#111" textLength="30.7" lengthAdjust="spacingAndGlyphs" stroke="#111" stroke-width="0.3">1/MIC</text>
<line x1="75.7" y1="195.5" x2="75.7" y2="306" stroke="#1f3862" stroke-width="2.7"/>
<polygon points="75.7,313.0 71.6,304.4 79.8,304.4" fill="#1f3862"/>
</svg></body></html>
